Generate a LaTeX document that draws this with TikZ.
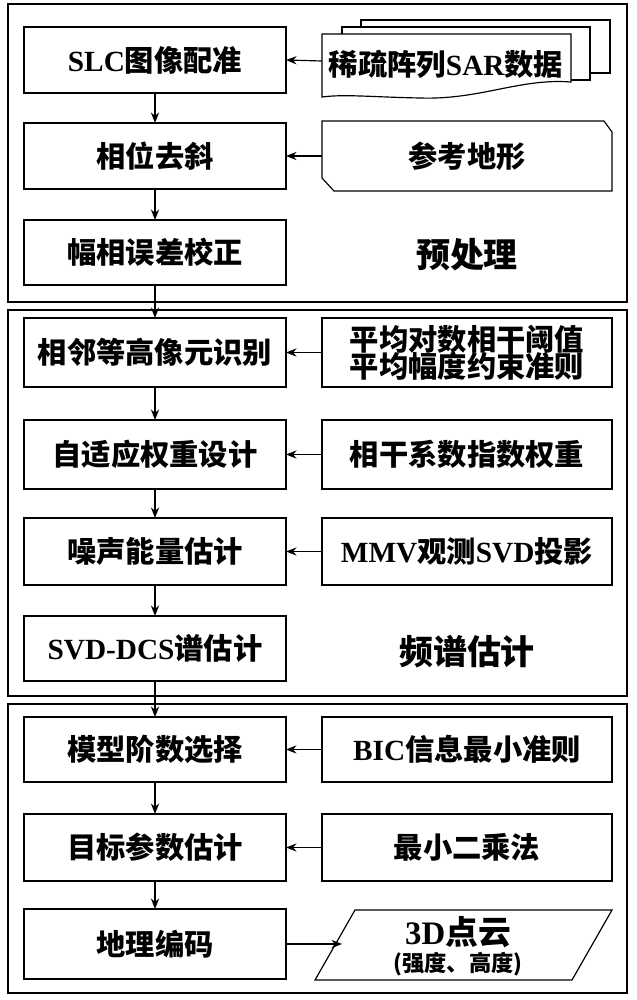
\documentclass[tikz,border=0pt]{standalone}
\usepackage{fontspec}
\setmainfont{Liberation Serif}
\newfontfamily\cjk{Noto Sans CJK SC}
\usetikzlibrary{arrows.meta}
\tikzset{x=0.03cm,y=-0.03cm,
 frame/.style={draw,line width=1pt},
 tx/.style={font=\cjk\bfseries\fontsize{25}{28}\selectfont,align=center},
 arr/.style={-{Stealth[length=9pt,width=7pt]},line width=1pt}}
\newcommand{\lt}[1]{{\rmfamily\bfseries #1}}
\begin{document}
\begin{tikzpicture}
\useasboundingbox (0,0) rectangle (636,1000);
\draw[frame] (8,4) rectangle (627,302);
\draw[frame] (8,310) rectangle (627,696);
\draw[frame] (8,704) rectangle (627,993);
% left boxes
\def\L#1#2#3#4{\draw[line width=1pt] (24,#2) rectangle (286,#3); \node[tx] (#1) at (155,{(#2+#3)/2}) {#4};
 \coordinate (#1t) at (155,#2); \coordinate (#1b) at (155,#3); \coordinate (#1r) at (286,{(#2+#3)/2});}
\L{a}{27}{93}{\lt{SLC}图像配准}
\L{b}{123}{189}{相位去斜}
\L{c}{220}{285}{幅相误差校正}
\L{d}{318}{387}{相邻等高像元识别}
\L{e}{420}{489}{自适应权重设计}
\L{f}{518}{585}{噪声能量估计}
\L{g}{616}{681}{\lt{SVD-DCS}谱估计}
\L{h}{717}{782}{模型阶数选择}
\L{i}{814}{881}{目标参数估计}
\L{j}{909}{979}{地理编码}
\foreach \p/\q in {a/b,b/c,c/d,d/e,e/f,f/g,g/h,h/i,i/j} \draw[arr] (\p b) -- (\q t);
% right boxes
\def\R#1#2#3#4{\draw[line width=1pt] (322,#2) rectangle (612,#3); \node[tx] (#1) at (467,{(#2+#3)/2}) {#4};
 \coordinate (#1l) at (322,{(#2+#3)/2});}
\R{rd}{318}{387}{平均对数相干阈值\\[-5pt]平均幅度约束准则}
\R{re}{420}{489}{相干系数指数权重}
\R{rf}{518}{585}{\lt{MMV}观测\lt{SVD}投影}
\R{rh}{717}{782}{\lt{BIC}信息最小准则}
\R{ri}{814}{881}{最小二乘法}
% document stack
\draw[line width=1pt] (361,27) -- (361,20) -- (610,20) -- (610,73) -- (590,73);
\draw[line width=1pt,fill=white] (342,34) -- (342,27) -- (590,27) -- (590,80) -- (571,80);
\draw[line width=1pt,fill=white] (322,34) -- (571,34) -- (571,82) .. controls (520,78) and (480,100) .. (420,98) .. controls (370,97) and (345,94) .. (322,97) -- cycle;
\node[tx] (ra) at (446,64) {稀疏阵列\lt{SAR}数据};
\coordinate (ral) at (322,61);
% card
\draw[line width=1pt] (322,121) -- (604,121) -- (612,132) -- (612,191) -- (334,191) -- (322,178) -- cycle;
\node[tx] (rb) at (467,156) {参考地形};
\coordinate (rbl) at (322,156);
% parallelogram
\draw[line width=1pt] (355,910) -- (612,910) -- (572,980) -- (315,980) -- cycle;
\node[font=\bfseries\fontsize{28}{30}\selectfont] (rj) at (458,932) {3D\cjk 点云};
\node[font=\cjk\bfseries\fontsize{19}{20}\selectfont] at (458,964) {(强度、高度)};
\coordinate (rjl) at (342,944);
\foreach \s/\t in {ral/ar,rbl/br,rdl/dr,rel/er,rfl/fr,rhl/hr,ril/ir} \draw[arr] (\s) -- (\t);
\draw[arr] (jr) -- (rjl);
\node[tx,font=\cjk\bfseries\fontsize{29}{30}\selectfont] at (467,255) {预处理};
\node[tx,font=\cjk\bfseries\fontsize{29}{30}\selectfont] at (467,652) {频谱估计};
\end{tikzpicture}
\end{document}
